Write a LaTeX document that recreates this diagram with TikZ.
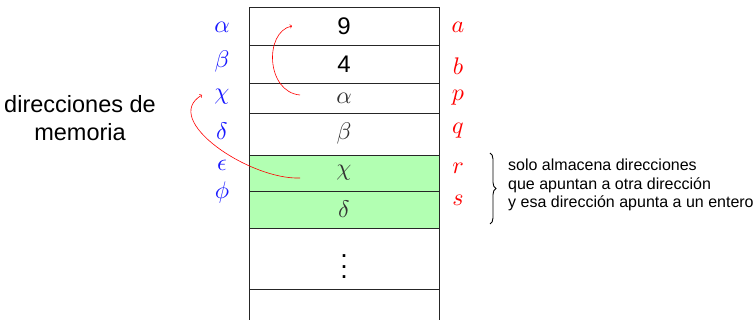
\documentclass[tikz,border=0pt]{standalone}
\usepackage{fontspec}
\setmainfont{Liberation Sans}
\usetikzlibrary{decorations.pathreplacing}
\definecolor{azul}{RGB}{25,25,255}
\newcommand{\grande}[1]{\scalebox{2.4}{\normalsize$#1$}}
\tikzset{
	celda/.style = {draw = black!85, line width = 0.8pt, minimum width = 190pt, inner sep = 0pt, font = \fontsize{24}{28}\selectfont},
	etiq/.style = {inner sep = 0pt},
	flecha/.style = {->, red, line width = 0.6pt}
}
\begin{document}
\begin{tikzpicture}[x = 1pt, y = -1pt]
	\useasboundingbox (0,0) rectangle (756,320);
	\node [celda, minimum height = 38pt] (c1) at (344,26) {9};
	\node [celda, minimum height = 38pt] (c2) at (344,64) {4};
	\node [celda, minimum height = 30pt, text = black!80] (c3) at (344,98) {\grande{\alpha}};
	\node [celda, minimum height = 42pt, text = black!80] (c4) at (344,134) {\grande{\beta}};
	\node [celda, minimum height = 36pt, fill = green!30, text = black!80] (c5) at (344,173) {\grande{\chi}};
	\node [celda, minimum height = 37pt, fill = green!30, text = black!80] (c6) at (344,209.5) {\grande{\delta}};
	\node [celda, minimum height = 61pt] (c7) at (344,258.5) {\scalebox{2.7}{\normalsize$\vdots$}};
	\node [celda, minimum height = 51pt] (c8) at (344,314.5) {};
	\foreach \y/\t [count = \i] in {27/\alpha,62/\beta,97/\chi,131/\delta,165/\epsilon,193/\phi}{
	\node [etiq, text = azul] (l\i) at (222,\y) {\grande{\t}};
	}
	\foreach \y/\t [count = \i] in {27/a,66/b,98/p,131/q,168/r,200/s}{
	\node [etiq, text = red] (r\i) at (458,\y) {\grande{\t}};
	}
	\node [align = center, font = \fontsize{23.5}{28}\selectfont] (dir) at (80,118) {direcciones de\\memoria};
	\coordinate (p1) at (300,95);
	\coordinate (q1) at (292,26);
	\coordinate (p2) at (300,178);
	\coordinate (q2) at (202,95);
	\draw [flecha] (p1) .. controls (266,92) and (264,32) .. (q1);
	\draw [flecha] (p2) .. controls (250,180) and (160,120) .. (q2);
	\draw [decorate, decoration = {brace, amplitude = 6pt}, line width = 0.9pt] (490,153) -- (490,224);
	\node [anchor = west, align = left, inner sep = 0pt, font = \fontsize{16}{18.5}\selectfont] (nota) at (508,185) {solo almacena direcciones\\que apuntan a otra dirección\\y esa dirección apunta a un entero};
\end{tikzpicture}
\end{document}
